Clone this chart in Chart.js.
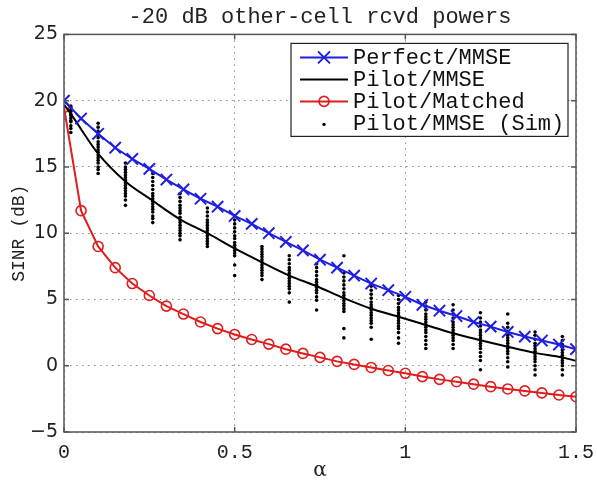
<!DOCTYPE html>
<html>
<head>
<meta charset="UTF-8" />
<title>SINR vs alpha</title>
<style>
  body { margin: 0; padding: 0; background: #fff; }
  .chart-container { width: 597px; height: 483px; position: relative; }
</style>
</head>
<body>
<div class="chart-container"><canvas id="sinrChart" width="597" height="483"></canvas></div>
<script src="https://cdn.jsdelivr.net/npm/chart.js"></script>
<script>
// alpha values where the markers sit (every 0.05)
const alphaGrid = [0, 0.05, 0.1, 0.15, 0.2, 0.25, 0.3, 0.35, 0.4, 0.45, 0.5, 0.55, 0.6, 0.65, 0.7, 0.75,
  0.8, 0.85, 0.9, 0.95, 1.0, 1.05, 1.1, 1.15, 1.2, 1.25, 1.3, 1.35, 1.4, 1.45, 1.5];
const perfectMmse = [20.0, 18.65, 17.5, 16.45, 15.6, 14.85, 14.05, 13.3, 12.6, 12.0, 11.3, 10.7, 10.0, 9.35, 8.7, 8.0,
  7.4, 6.8, 6.2, 5.7, 5.2, 4.6, 4.15, 3.75, 3.3, 2.95, 2.55, 2.2, 1.9, 1.6, 1.25];
const pilotMatched = [19.5, 11.7, 9.0, 7.4, 6.2, 5.3, 4.5, 3.9, 3.3, 2.8, 2.36, 1.98, 1.63, 1.25, 0.93, 0.63,
  0.33, 0.1, -0.13, -0.36, -0.57, -0.82, -1.03, -1.21, -1.39, -1.58, -1.75, -1.9, -2.05, -2.21, -2.34];

// analytic Pilot/MMSE curve, read at the sim columns
const pilotAlpha = [0, 0.02, 0.1, 0.18, 0.26, 0.34, 0.42, 0.5, 0.58, 0.66, 0.74, 0.82, 0.9, 0.98, 1.06, 1.14,
  1.22, 1.3, 1.38, 1.46, 1.5];
const pilotMmse = [19.7, 19.0, 16.0, 13.9, 12.45, 11.05, 10.0, 8.85, 7.8, 6.8, 6.0, 5.1, 4.3, 3.7, 3.07, 2.45,
  1.93, 1.43, 0.97, 0.63, 0.37];

// simulated Pilot/MMSE realisations, one column per alpha
const simAlpha = [0.02, 0.1, 0.18, 0.26, 0.34, 0.42, 0.5, 0.58, 0.66, 0.74, 0.82, 0.9, 0.98, 1.06, 1.14, 1.22, 1.3, 1.38, 1.46];
const simValues = [
  [19.6, 19.5, 19.3, 19.2, 19.0, 18.9, 18.7, 18.5, 18.4, 18.1, 17.9, 17.6],
  [18.3, 18.0, 17.7, 17.4, 17.2, 16.9, 16.7, 16.5, 16.3, 16.1, 15.9, 15.7, 15.5, 15.3, 15.0, 14.8, 14.5],
  [15.3, 15.0, 14.8, 14.6, 14.4, 14.2, 14.0, 13.8, 13.6, 13.4, 13.2, 13.0, 12.8, 12.5, 12.1],
  [14.5, 14.2, 13.9, 13.6, 13.3, 13.0, 12.8, 12.6, 12.4, 12.2, 12.0, 11.8, 11.6, 11.3, 11.1, 10.8],
  [13.0, 12.7, 12.4, 12.1, 11.9, 11.7, 11.5, 11.2, 11.0, 10.8, 10.6, 10.4, 10.2, 10.0, 9.8, 9.5],
  [11.9, 11.6, 11.3, 11.0, 10.8, 10.6, 10.4, 10.2, 10.0, 9.8, 9.6, 9.4, 9.2, 9.0],
  [11.3, 11.0, 10.7, 10.4, 10.1, 9.8, 9.6, 9.3, 9.1, 8.9, 8.7, 8.5, 8.3, 7.6, 6.8],
  [9.0, 8.8, 8.6, 8.4, 8.2, 8.0, 7.8, 7.6, 7.4, 7.2, 7.0, 6.8, 6.5],
  [8.3, 8.0, 7.7, 7.4, 7.2, 7.0, 6.8, 6.6, 6.4, 6.2, 6.0, 5.8, 5.5, 4.8],
  [7.7, 7.4, 7.1, 6.8, 6.5, 6.3, 6.1, 5.9, 5.7, 5.5, 5.2, 4.95, 4.2],
  [8.3, 7.0, 6.7, 6.4, 6.1, 5.8, 5.5, 5.3, 5.1, 4.9, 4.7, 4.5, 4.3, 4.1, 2.8, 2.1],
  [6.0, 5.7, 5.4, 5.1, 4.8, 4.6, 4.4, 4.2, 4.0, 3.8, 3.6, 3.4, 3.2, 2.9, 2.0],
  [5.3, 5.0, 4.7, 4.4, 4.2, 4.0, 3.8, 3.6, 3.4, 3.2, 3.0, 2.8, 2.5, 2.1, 1.7],
  [4.8, 4.5, 4.2, 3.9, 3.7, 3.5, 3.3, 3.1, 2.9, 2.7, 2.5, 2.2, 1.9, 1.6, 1.3],
  [4.6, 4.2, 3.9, 3.6, 3.3, 3.1, 2.9, 2.7, 2.5, 2.3, 2.1, 1.9, 1.6, 1.3],
  [4.0, 3.6, 3.3, 3.0, 2.7, 2.5, 2.3, 2.1, 1.9, 1.7, 1.5, 1.3, 1.0, 0.7, 0.4, -0.3],
  [3.9, 3.2, 2.9, 2.6, 2.3, 2.1, 1.9, 1.7, 1.5, 1.3, 1.1, 0.9, 0.6, 0.3, -0.1],
  [2.55, 2.3, 2.0, 1.7, 1.5, 1.3, 1.1, 0.9, 0.7, 0.5, 0.3, 0.0, -0.3, -0.7],
  [2.2, 1.9, 1.6, 1.4, 1.2, 1.0, 0.8, 0.6, 0.4, 0.2, 0.0, -0.3, -0.7]
];

const xTicks = [0, 0.5, 1, 1.5];
const yTicks = [-5, 0, 5, 10, 15, 20, 25];

const blue = "#1f1fe0";
const red = "#e01c1c";

const toPoints = (xs, ys) => xs.map((x, i) => ({ x: x, y: ys[i] }));
const simPoints = [];
simAlpha.forEach((a, i) => simValues[i].forEach((v) => simPoints.push({ x: a, y: v })));

// frame, inward ticks and the boxed legend (MATLAB look)
const framePlugin = {
  id: "frame",
  afterDraw(chart) {
    const { ctx, chartArea: a, scales } = chart;
    const x = scales.x, y = scales.y;
    ctx.save();
    ctx.setLineDash([]);
    ctx.strokeStyle = "#555";
    ctx.lineWidth = 1.5;
    ctx.strokeRect(a.left, a.top, a.right - a.left, a.bottom - a.top);
    ctx.beginPath();
    xTicks.forEach((t) => {
      const px = x.getPixelForValue(t);
      ctx.moveTo(px, a.bottom); ctx.lineTo(px, a.bottom - 5);
      ctx.moveTo(px, a.top); ctx.lineTo(px, a.top + 5);
    });
    yTicks.forEach((t) => {
      const py = y.getPixelForValue(t);
      ctx.moveTo(a.left, py); ctx.lineTo(a.left + 5, py);
      ctx.moveTo(a.right, py); ctx.lineTo(a.right - 5, py);
    });
    ctx.stroke();

    // legend box
    const bw = 277, bh = 93;
    const bx = a.right - bw - 8, by = a.top + 9;
    ctx.fillStyle = "#fff";
    ctx.fillRect(bx, by, bw, bh);
    ctx.strokeStyle = "#222";
    ctx.lineWidth = 1.2;
    ctx.strokeRect(bx, by, bw, bh);
    ctx.font = "22px 'Liberation Mono', monospace";
    ctx.textBaseline = "middle";
    chart.data.datasets.forEach((ds, i) => {
      const ry = by + 14 + i * 22;
      const mx = bx + 33;
      ctx.strokeStyle = ds.borderColor;
      ctx.lineWidth = 2;
      if (ds.showLine !== false) {
        ctx.beginPath();
        ctx.moveTo(bx + 9, ry); ctx.lineTo(bx + 57, ry);
        ctx.stroke();
      }
      if (ds.pointStyle === "crossRot") {
        ctx.beginPath();
        ctx.moveTo(mx - 6, ry - 6); ctx.lineTo(mx + 6, ry + 6);
        ctx.moveTo(mx - 6, ry + 6); ctx.lineTo(mx + 6, ry - 6);
        ctx.stroke();
      } else if (ds.pointStyle === "circle" && ds.showLine !== false && ds.pointRadius > 0) {
        ctx.beginPath();
        ctx.arc(mx, ry, ds.pointRadius, 0, Math.PI * 2);
        ctx.lineWidth = ds.pointBorderWidth;
        ctx.stroke();
      } else if (ds.showLine === false) {
        ctx.fillStyle = "#000";
        ctx.beginPath();
        ctx.arc(mx, ry + 1, 1.7, 0, Math.PI * 2);
        ctx.fill();
      }
      ctx.fillStyle = "#111";
      ctx.fillText(ds.label, bx + 62, ry + 1);
    });
    ctx.restore();
  }
};

new Chart(document.getElementById("sinrChart"), {
  type: "scatter",
  data: {
    datasets: [
      {
        label: "Perfect/MMSE",
        data: toPoints(alphaGrid, perfectMmse),
        showLine: true,
        borderColor: blue,
        backgroundColor: blue,
        borderWidth: 2,
        pointStyle: "crossRot",
        pointRadius: 8,
        pointBorderWidth: 2,
        pointBorderColor: blue
      },
      {
        label: "Pilot/MMSE",
        data: toPoints(pilotAlpha, pilotMmse),
        showLine: true,
        borderColor: "#000",
        backgroundColor: "#000",
        borderWidth: 2,
        cubicInterpolationMode: "monotone",
        pointStyle: "circle",
        pointRadius: 0
      },
      {
        label: "Pilot/Matched",
        data: toPoints(alphaGrid, pilotMatched),
        showLine: true,
        borderColor: red,
        backgroundColor: "rgba(0,0,0,0)",
        borderWidth: 2,
        pointStyle: "circle",
        pointRadius: 5,
        pointBorderWidth: 1.6,
        pointBorderColor: red,
        pointBackgroundColor: "rgba(0,0,0,0)"
      },
      {
        label: "Pilot/MMSE (Sim)",
        data: simPoints,
        showLine: false,
        borderColor: "#000",
        backgroundColor: "#000",
        pointStyle: "circle",
        pointRadius: 1.8,
        pointBorderWidth: 0
      }
    ]
  },
  options: {
    responsive: false,
    animation: false,
    devicePixelRatio: 1,
    layout: { padding: { left: 0, right: 21, top: 0, bottom: 0 } },
    plugins: {
      legend: { display: false },
      tooltip: { enabled: false },
      title: {
        display: true,
        fullSize: false,
        text: "-20 dB other-cell rcvd powers",
        color: "#222",
        font: { family: "'Liberation Mono', monospace", size: 22, weight: "normal" },
        padding: { top: 4, bottom: 4 }
      }
    },
    scales: {
      x: {
        type: "linear",
        min: 0,
        max: 1.5,
        afterBuildTicks: (axis) => { axis.ticks = xTicks.map((v) => ({ value: v })); },
        afterFit: (axis) => { axis.height = 51; axis.paddingLeft = 0; axis.paddingRight = 0; },
        grid: { color: "#8a8a8a", lineWidth: 1, drawTicks: false },
        border: { display: false, dash: [1.5, 4.5] },
        ticks: {
          color: "#222",
          padding: 9,
          font: { family: "'Liberation Mono', monospace", size: 20 },
          callback: (v) => String(v)
        },
        title: {
          display: true,
          text: "α",
          color: "#222",
          font: { family: "'DejaVu Serif', serif", size: 20 },
          padding: { top: 0, bottom: 0 }
        }
      },
      y: {
        type: "linear",
        min: -5,
        max: 25,
        afterBuildTicks: (axis) => { axis.ticks = yTicks.map((v) => ({ value: v })); },
        afterFit: (axis) => { axis.width = 64; axis.paddingTop = 0; axis.paddingBottom = 0; },
        grid: { color: "#8a8a8a", lineWidth: 1, drawTicks: false },
        border: { display: false, dash: [1.5, 4.5] },
        ticks: {
          color: "#222",
          padding: 6,
          font: { family: "'DejaVu Sans', sans-serif", size: 19 },
          callback: (v) => String(v).replace("-", "\u2212")
        },
        title: {
          display: true,
          text: "SINR (dB)",
          color: "#222",
          font: { family: "'Liberation Mono', monospace", size: 18 },
          padding: { top: 8, bottom: 0 }
        }
      }
    }
  },
  plugins: [framePlugin]
});
</script>
</body>
</html>
